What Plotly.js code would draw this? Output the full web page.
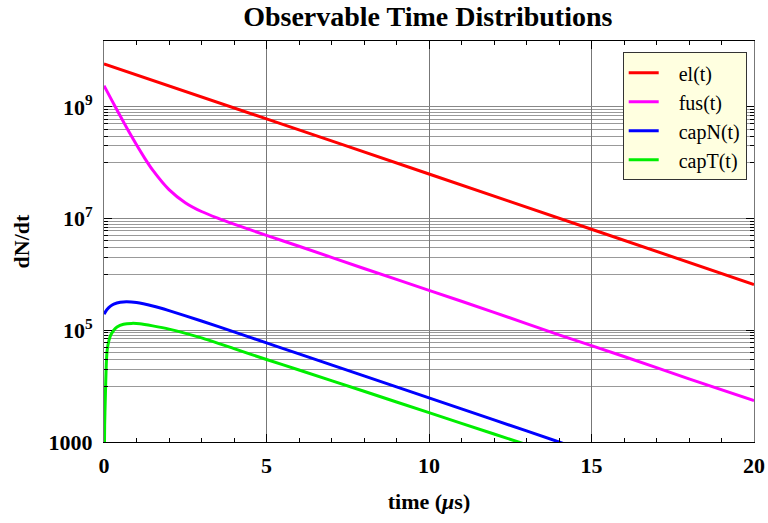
<!DOCTYPE html>
<html>
<head>
<meta charset="utf-8">
<script src="https://cdn.plot.ly/plotly-3.0.1.min.js"></script>
<style>
  html, body { margin: 0; padding: 0; background: #fff; }
  #chart { width: 768px; height: 523px; }
</style>
</head>
<body>
<div id="chart"></div>
<script>
// Time axis samples (microseconds) and rates dN/dt for each observable
const elT = [0, 5, 10, 15, 20];
const elV = [5.9e9, 6.1e8, 6.3e7, 6.45e6, 6.6e5];

const fusT = [0, 0.25, 0.5, 0.75, 1, 1.25, 1.5, 2, 2.5, 3, 3.5, 4, 5, 6, 8, 10, 12, 14, 16, 18, 20];
const fusV = [2.4e9, 1.28e9, 6.86e8, 3.74e8, 2.09e8, 1.21e8, 7.35e7, 3.3e7, 1.93e7, 1.34e7,
              1.02e7, 7.97e6, 5.0e6, 3.2e6, 1.28e6, 5.2e5, 2.1e5, 8.3e4, 3.4e4, 1.35e4, 5.5e3];

const capNT = [0, 0.1, 0.2, 0.3, 0.5, 0.7, 1, 1.5, 2, 3, 4, 5, 6, 8, 10, 12, 14, 15];
const capNV = [1.95e5, 2.39e5, 2.71e5, 2.94e5, 3.19e5, 3.25e5, 3.14e5, 2.72e5, 2.25e5, 1.47e5,
               9.37e4, 5.95e4, 3.78e4, 1.53e4, 6.17e3, 2.49e3, 1.0e3, 6.3e2];

const capTT = [0, 0.02, 0.04, 0.07, 0.1, 0.15, 0.2, 0.3, 0.4, 0.6, 0.85, 1.1, 1.5, 2, 3, 4, 5, 6, 8, 10, 12, 14];
const capTV = [1e2, 2.0e3, 6.0e3, 2.5e4, 4.5e4, 6.5e4, 8.0e4, 1.0e5, 1.14e5, 1.28e5, 1.33e5, 1.31e5,
               1.2e5, 1.05e5, 7.3e4, 4.7e4, 3.0e4, 1.95e4, 8.1e3, 3.35e3, 1.39e3, 5.8e2];

const seriesNames = ['el(t)', 'fus(t)', 'capN(t)', 'capT(t)'];
const seriesColors = ['#ff0000', '#ff00ff', '#0000ff', '#00ee00'];

// Axis ticks
const xTicks = [0, 5, 10, 15, 20];
const yTicks = [1e3, 1e5, 1e7, 1e9];
const yTickText = ['1000', '10<sup>5</sup>', '10<sup>7</sup>', '10<sup>9</sup>'];
const yMinorDecades = [1e4, 1e6, 1e8];
const yMinorMult = [1, 2, 3, 4, 5, 6, 7, 8, 9];

const yMinor = [];
yMinorDecades.forEach(d => yMinorMult.forEach(m => yMinor.push(m * d)));

const serif = 'Liberation Serif, Times New Roman, serif';
const nb = '\u00a0\u00a0\u00a0';

const data = [[elT, elV], [fusT, fusV], [capNT, capNV], [capTT, capTV]].map((s, i) => ({
  x: s[0], y: s[1],
  type: 'scatter', mode: 'lines',
  name: nb + seriesNames[i],
  legendgroup: 'g' + i,
  line: { color: seriesColors[i], width: 3, shape: 'spline', smoothing: 0.6 }
}));

const layout = {
  width: 768, height: 523,
  margin: { l: 104, r: 13.5, t: 41, b: 81 },
  paper_bgcolor: '#ffffff',
  plot_bgcolor: '#ffffff',
  font: { family: serif, color: '#000' },
  title: {
    text: 'Observable Time Distributions',
    font: { family: serif, size: 28, weight: 'bold', color: '#000' },
    x: 0.557, xanchor: 'center', y: 0.969, yanchor: 'middle'
  },
  showlegend: true,
  legend: {
    x: 0.798, xanchor: 'left', y: 0.972, yanchor: 'top',
    bgcolor: '#ffffe0', bordercolor: '#333', borderwidth: 1,
    font: { family: serif, size: 20, color: '#000' },
    tracegroupgap: 0
  },
  xaxis: {
    range: [0, 20],
    tickvals: xTicks,
    ticks: 'inside', ticklen: 8, tickcolor: '#000',
    tickfont: { family: serif, size: 22, weight: 'bold', color: '#000' },
    ticklabelstandoff: 4,
    showline: true, linecolor: '#000', linewidth: 1, mirror: 'ticks',
    showgrid: true, gridcolor: '#777', gridwidth: 1,
    zeroline: false,
    minor: { dtick: 1, ticks: 'inside', ticklen: 4, tickcolor: '#000', showgrid: false },
    title: {
      text: 'time (<i>μ</i>s)',
      font: { family: serif, size: 22, weight: 'bold', color: '#000' },
      standoff: 16
    }
  },
  yaxis: {
    type: 'log',
    range: [3, 10.18],
    tickvals: yTicks, ticktext: yTickText,
    ticks: 'inside', ticklen: 8, tickcolor: '#000',
    tickfont: { family: serif, size: 22, weight: 'bold', color: '#000' },
    ticklabelstandoff: 6,
    showline: true, linecolor: '#777', linewidth: 1, mirror: 'ticks',
    showgrid: true, gridcolor: '#888', gridwidth: 1,
    zeroline: false,
    minor: { tickvals: yMinor, ticks: 'inside', ticklen: 4, tickcolor: '#000',
             showgrid: true, gridcolor: '#999', gridwidth: 1 },
    title: {
      text: 'dN/dt',
      font: { family: serif, size: 22, weight: 'bold', color: '#000' },
      standoff: 12
    }
  }
};

Plotly.newPlot('chart', data, layout, { displayModeBar: false, staticPlot: true });
</script>
</body>
</html>
